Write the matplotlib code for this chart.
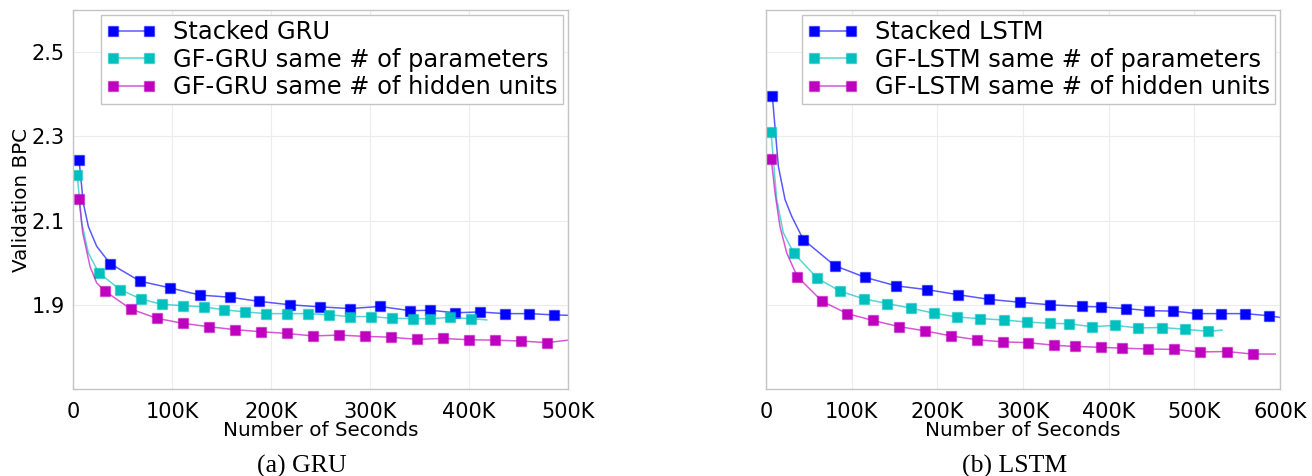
import numpy as np
import matplotlib
matplotlib.use('Agg')
import matplotlib.pyplot as plt
from matplotlib.ticker import FuncFormatter

# values: x in thousands of seconds, y = validation BPC
# marker points + a few extra points on the steep start of each curve

# ---- (a) GRU ----
gru_stacked_x = [6.1, 37.4, 67.7, 98.3, 128.3, 158.6, 188.2, 219.2, 249.5, 279.8, 310.1,
                 340.4, 360.9, 386.2, 411.1, 436.1, 460.9, 485.6]
gru_stacked_y = [2.244, 1.998, 1.956, 1.940, 1.923, 1.918, 1.908, 1.900, 1.895, 1.891, 1.896,
                 1.886, 1.887, 1.881, 1.883, 1.879, 1.879, 1.876]
gru_stacked_curve_x = [10.4, 15.5, 23.9, 500.0]
gru_stacked_curve_y = [2.142, 2.086, 2.039, 1.875]

gru_params_x = [4.3, 26.0, 47.5, 68.4, 89.6, 110.8, 132.0, 152.8, 174.0, 195.3, 216.5,
                237.4, 258.6, 279.8, 301.0, 322.2, 343.7, 360.3, 381.1, 402.0]
gru_params_y = [2.207, 1.976, 1.936, 1.914, 1.901, 1.898, 1.895, 1.888, 1.883, 1.879, 1.879,
                1.879, 1.876, 1.872, 1.872, 1.868, 1.867, 1.867, 1.870, 1.867]
gru_params_curve_x = [8.8, 15.5, 417.9]
gru_params_curve_y = [2.095, 2.023, 1.864]

gru_hidden_x = [6.1, 32.0, 58.3, 84.5, 110.8, 137.1, 163.3, 189.6, 215.9, 242.1, 268.4,
                294.9, 320.9, 347.2, 373.7, 400.0, 426.3, 452.5, 478.8]
gru_hidden_y = [2.152, 1.933, 1.890, 1.868, 1.856, 1.848, 1.841, 1.836, 1.832, 1.826, 1.828,
                1.825, 1.823, 1.818, 1.820, 1.817, 1.816, 1.814, 1.810]
gru_hidden_curve_x = [9.8, 17.2, 23.9, 500.0]
gru_hidden_curve_y = [2.071, 1.991, 1.952, 1.816]

# ---- (b) LSTM ----
lstm_stacked_x = [7.4, 43.5, 80.2, 115.9, 151.7, 187.9, 224.0, 259.9, 296.4, 331.4, 368.4,
                  390.6, 419.7, 446.9, 475.3, 503.3, 530.9, 559.3, 586.9]
lstm_stacked_y = [2.396, 2.055, 1.993, 1.965, 1.945, 1.936, 1.924, 1.913, 1.906, 1.900, 1.896,
                  1.895, 1.891, 1.886, 1.885, 1.879, 1.879, 1.879, 1.874]
lstm_stacked_curve_x = [14.4, 22.2, 30.0, 600.0]
lstm_stacked_curve_y = [2.229, 2.150, 2.110, 1.870]

lstm_params_x = [5.8, 32.7, 59.9, 86.7, 114.4, 141.5, 168.8, 196.0, 223.2, 249.7, 277.4,
                 304.6, 331.7, 353.2, 380.0, 407.6, 434.4, 461.7, 488.9, 516.1]
lstm_params_y = [2.311, 2.022, 1.963, 1.932, 1.914, 1.903, 1.892, 1.880, 1.871, 1.867, 1.864,
                 1.859, 1.856, 1.855, 1.848, 1.851, 1.845, 1.846, 1.842, 1.837]
lstm_params_curve_x = [12.5, 20.2, 532.4]
lstm_params_curve_y = [2.150, 2.071, 1.840]

lstm_hidden_x = [6.2, 36.5, 65.7, 94.9, 124.5, 155.5, 185.9, 215.9, 245.9, 276.2, 306.1,
                 336.1, 360.6, 390.9, 415.4, 446.1, 476.4, 506.8, 537.6, 567.9]
lstm_hidden_y = [2.245, 1.967, 1.908, 1.879, 1.863, 1.848, 1.838, 1.826, 1.817, 1.812, 1.810,
                 1.804, 1.801, 1.799, 1.797, 1.795, 1.794, 1.788, 1.789, 1.783]
lstm_hidden_curve_x = [10.5, 16.3, 24.2, 594.4]
lstm_hidden_curve_y = [2.166, 2.086, 2.023, 1.783]

blue = (0.0, 0.0, 1.0)
cyan = (0.0, 0.75, 0.75)
magenta = (0.75, 0.0, 0.75)


def plot_series(ax, mx, my, cx, cy, color, label):
    x = np.array(mx + cx) * 1000
    y = np.array(my + cy)
    is_marker = np.array([True] * len(mx) + [False] * len(cx))
    order = np.argsort(x)
    ax.plot(x[order], y[order], color=color + (0.65,), lw=1.1, marker='s', ms=6.5,
            mfc=color, mec=color + (0.45,), mew=1.0, markevery=list(is_marker[order]),
            label=label)


def k_format(v, pos):
    return '0' if v == 0 else f'{int(round(v / 1000))}K'


def style_axes(ax, xmax, show_ylabels):
    ax.set_xlim(0, xmax * 1000)
    ax.set_ylim(1.7, 2.6)
    ax.set_yticks([1.9, 2.1, 2.3, 2.5])
    ax.set_xticks(np.arange(0, xmax + 1, 100) * 1000)
    ax.xaxis.set_major_formatter(FuncFormatter(k_format))
    ax.grid(True, color='#ececec', lw=0.8)
    ax.set_axisbelow(True)
    for s in ax.spines.values():
        s.set_color('#c4c4c4')
        s.set_linewidth(1.0)
    ax.tick_params(axis='x', length=0, pad=9, labelsize=15)
    ax.tick_params(axis='y', length=0, pad=6, labelsize=15)
    if not show_ylabels:
        ax.tick_params(axis='y', labelleft=False)
    ax.set_xlabel('Number of Seconds', fontsize=14.3, labelpad=0)
    leg = ax.legend(loc='upper right', fontsize=17.4, numpoints=2, handlelength=2.1,
                    handletextpad=0.7, borderpad=0.2, labelspacing=0.15,
                    borderaxespad=0.22, fancybox=False, framealpha=1)
    leg.get_frame().set_edgecolor('#c4c4c4')
    leg.get_frame().set_linewidth(1.0)


fig = plt.figure(figsize=(13.12, 4.76), dpi=100)
ax1 = fig.add_axes([73 / 1312, 1 - 389 / 476, 495 / 1312, 379 / 476])
ax2 = fig.add_axes([766 / 1312, 1 - 389 / 476, 514 / 1312, 379 / 476])

plot_series(ax1, gru_stacked_x, gru_stacked_y, gru_stacked_curve_x, gru_stacked_curve_y,
            blue, 'Stacked GRU')
plot_series(ax1, gru_params_x, gru_params_y, gru_params_curve_x, gru_params_curve_y,
            cyan, 'GF-GRU same # of parameters')
plot_series(ax1, gru_hidden_x, gru_hidden_y, gru_hidden_curve_x, gru_hidden_curve_y,
            magenta, 'GF-GRU same # of hidden units')
style_axes(ax1, 500, True)
ax1.set_ylabel('Validation BPC', fontsize=14.3, labelpad=0)

plot_series(ax2, lstm_stacked_x, lstm_stacked_y, lstm_stacked_curve_x, lstm_stacked_curve_y,
            blue, 'Stacked LSTM')
plot_series(ax2, lstm_params_x, lstm_params_y, lstm_params_curve_x, lstm_params_curve_y,
            cyan, 'GF-LSTM same # of parameters')
plot_series(ax2, lstm_hidden_x, lstm_hidden_y, lstm_hidden_curve_x, lstm_hidden_curve_y,
            magenta, 'GF-LSTM same # of hidden units')
style_axes(ax2, 600, False)

fig.text(302 / 1312, 1 - 466 / 476, '(a) GRU', family='Liberation Serif', fontsize=18.5,
         ha='center', va='center')
fig.text(1015 / 1312, 1 - 466 / 476, '(b) LSTM', family='Liberation Serif', fontsize=18.5,
         ha='center', va='center')

fig.savefig('out.png', dpi=100)
